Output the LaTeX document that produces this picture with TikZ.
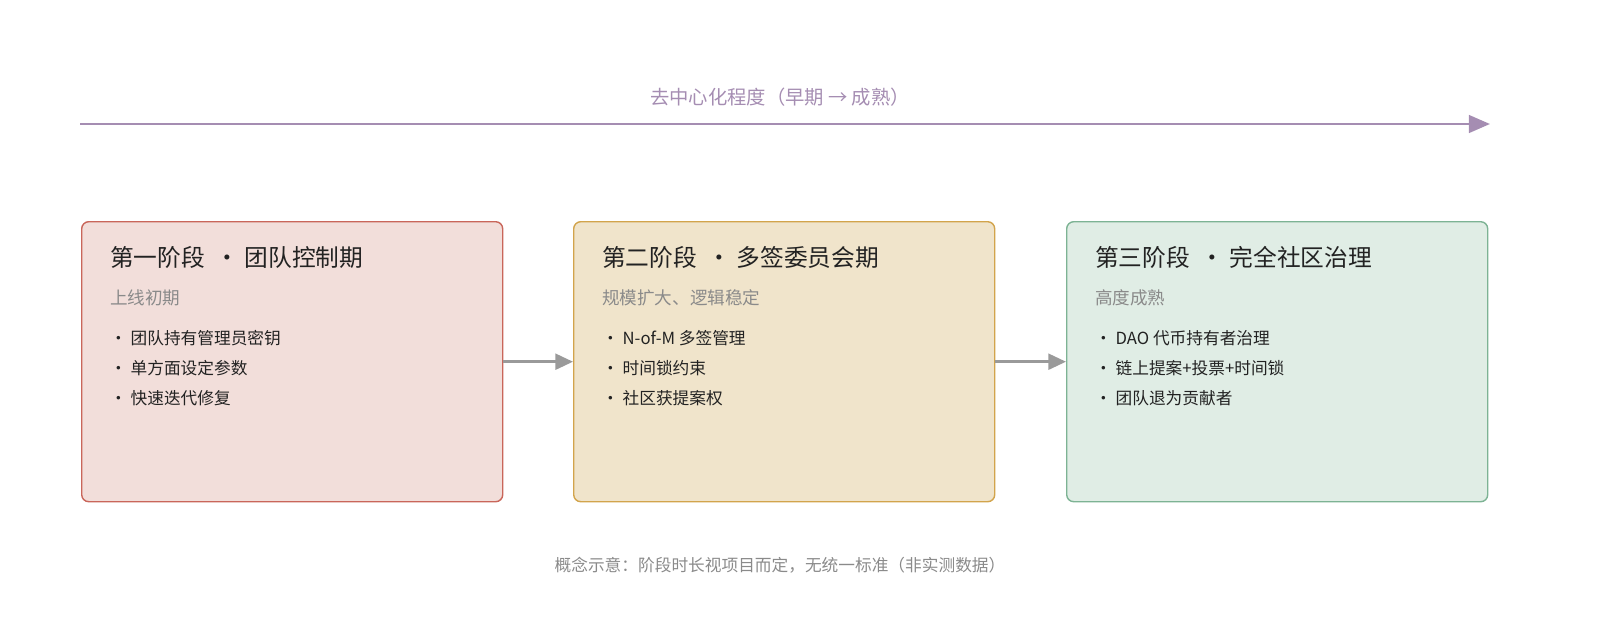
\documentclass[tikz,border=0pt]{standalone}
\usepackage{fontspec}
\setmainfont{Noto Sans CJK SC}
\usetikzlibrary{arrows.meta}
\definecolor{pur}{HTML}{A58DB2}
\definecolor{gr}{HTML}{9A9A9A}
\definecolor{sub}{HTML}{8A8A8A}
\definecolor{txt}{HTML}{222222}
\definecolor{f1}{HTML}{F2DEDA}\definecolor{b1}{HTML}{C9665A}
\definecolor{f2}{HTML}{F0E4CB}\definecolor{b2}{HTML}{D2A44C}
\definecolor{f3}{HTML}{E0EDE5}\definecolor{b3}{HTML}{7DB394}
\begin{document}
\begin{tikzpicture}[x=0.02cm,y=-0.02cm,
  box/.style={draw,line width=0.8pt,rounded corners=4pt,minimum width=421*0.02cm,minimum height=280*0.02cm,anchor=north west},
  ttl/.style={anchor=west,font=\fontsize{13.5}{14}\selectfont,text=txt},
  st/.style={anchor=west,font=\fontsize{10}{12}\selectfont,text=sub},
  it/.style={anchor=west,font=\fontsize{9.5}{12}\selectfont,text=txt},
  con/.style={gr,line width=1.5pt,-{Triangle[length=10pt,width=9pt]}}]
\useasboundingbox (0,0) rectangle (1600,640);
\coordinate (ts) at (80,124); \coordinate (te) at (1490,124);
\draw[pur,line width=1.5pt,-{Triangle[length=12pt,width=10pt]}] (ts) -- (te);
\node[font=\fontsize{11}{13}\selectfont,text=pur] (top) at (780,97) {去中心化程度（早期 → 成熟）};
\node[box,draw=b1,fill=f1] (A) at (81,221) {};
\node[box,draw=b2,fill=f2] (B) at (573,221) {};
\node[box,draw=b3,fill=f3] (C) at (1066,221) {};
\draw[con] (A.east) -- (B.west);
\draw[con] (B.east) -- (C.west);
\foreach \n/\x/\t/\s/\a/\b/\c in {
 1/104/{第一阶段 \ ・\ 团队控制期}/{上线初期}/{团队持有管理员密钥}/{单方面设定参数}/{快速迭代修复},
 2/596/{第二阶段 \ ・\ 多签委员会期}/{规模扩大、逻辑稳定}/{N-of-M 多签管理}/{时间锁约束}/{社区获提案权},
 3/1089/{第三阶段 \ ・\ 完全社区治理}/{高度成熟}/{DAO 代币持有者治理}/{链上提案+投票+时间锁}/{团队退为贡献者}}{
 \node[ttl] (t\n) at (\x,257) {\t};
 \node[st] (s\n) at (\x,298) {\s};
 \node[it] (a\n) at (\x,338) {・\ \a};
 \node[it] (b\n) at (\x,368) {・\ \b};
 \node[it] (c\n) at (\x,398) {・\ \c};
}
\node[font=\fontsize{9.5}{12}\selectfont,text=sub] (foot) at (780,565) {概念示意：阶段时长视项目而定，无统一标准（非实测数据）};
\end{tikzpicture}
\end{document}
